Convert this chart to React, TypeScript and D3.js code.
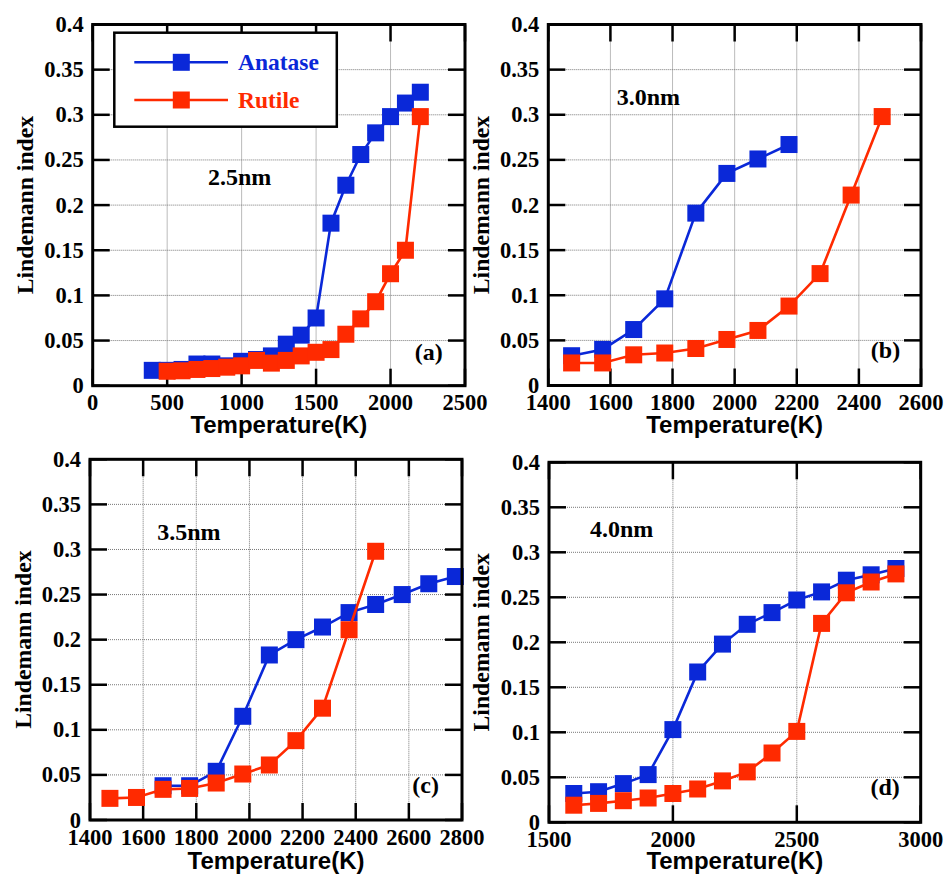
import React from "react";
import * as d3 from "d3";

const BLUE = "#0A28D8";
const RED = "#FF2A00";

// Panel (a) 2.5nm
const aAnataseT = [400, 500, 600, 700, 800, 900, 1000, 1100, 1200, 1300, 1400, 1500, 1600, 1700, 1800, 1900, 2000, 2100, 2200];
const aAnataseL = [0.017, 0.017, 0.018, 0.024, 0.024, 0.022, 0.027, 0.029, 0.033, 0.046, 0.056, 0.075, 0.18, 0.222, 0.256, 0.28, 0.298, 0.313, 0.325];
const aRutileT = [500, 600, 700, 800, 900, 1000, 1100, 1200, 1300, 1400, 1500, 1600, 1700, 1800, 1900, 2000, 2100, 2200];
const aRutileL = [0.016, 0.0165, 0.018, 0.019, 0.0205, 0.022, 0.028, 0.025, 0.028, 0.033, 0.037, 0.04, 0.057, 0.074, 0.093, 0.124, 0.15, 0.298];

// Panel (b) 3.0nm
const bAnataseT = [1475, 1575, 1675, 1775, 1875, 1975, 2075, 2175];
const bAnataseL = [0.033, 0.04, 0.062, 0.096, 0.191, 0.235, 0.251, 0.267];
const bRutileT = [1475, 1575, 1675, 1775, 1875, 1975, 2075, 2175, 2275, 2375, 2475];
const bRutileL = [0.025, 0.025, 0.034, 0.036, 0.041, 0.051, 0.061, 0.088, 0.124, 0.211, 0.298];

// Panel (c) 3.5nm
const cAnataseT = [1675, 1775, 1875, 1975, 2075, 2175, 2275, 2375, 2475, 2575, 2675, 2775];
const cAnataseL = [0.038, 0.038, 0.054, 0.115, 0.183, 0.2, 0.214, 0.23, 0.239, 0.25, 0.262, 0.27];
const cRutileT = [1475, 1575, 1675, 1775, 1875, 1975, 2075, 2175, 2275, 2375, 2475];
const cRutileL = [0.024, 0.025, 0.034, 0.035, 0.041, 0.051, 0.061, 0.088, 0.124, 0.211, 0.298];

// Panel (d) 4.0nm
const dAnataseT = [1600, 1700, 1800, 1900, 2000, 2100, 2200, 2300, 2400, 2500, 2600, 2700, 2800, 2900];
const dAnataseL = [0.032, 0.034, 0.043, 0.053, 0.103, 0.167, 0.198, 0.22, 0.233, 0.247, 0.256, 0.269, 0.275, 0.282];
const dRutileT = [1600, 1700, 1800, 1900, 2000, 2100, 2200, 2300, 2400, 2500, 2600, 2700, 2800, 2900];
const dRutileL = [0.019, 0.021, 0.024, 0.027, 0.032, 0.037, 0.046, 0.056, 0.077, 0.101, 0.221, 0.255, 0.267, 0.276];

const yTicks = [0, 0.05, 0.1, 0.15, 0.2, 0.25, 0.3, 0.35, 0.4];
const yTickLabels = ["0", "0.05", "0.1", "0.15", "0.2", "0.25", "0.3", "0.35", "0.4"];
const xTicksA = [0, 500, 1000, 1500, 2000, 2500];
const xTicksB = [1400, 1600, 1800, 2000, 2200, 2400, 2600];
const xTicksC = [1400, 1600, 1800, 2000, 2200, 2400, 2600, 2800];
const xTicksD = [1500, 2000, 2500, 3000];

const sizeLabels = ["2.5nm", "3.0nm", "3.5nm", "4.0nm"];
const panelTags = ["(a)", "(b)", "(c)", "(d)"];
const seriesNames = ["Anatase", "Rutile"];
const xTitle = "Temperature(K)";
const yTitle = "Lindemann index";

const SERIF: React.CSSProperties = { fontFamily: "Liberation Serif", fontWeight: 700 };
const SANS: React.CSSProperties = { fontFamily: "Liberation Sans", fontWeight: 700 };

type PanelCfg = {
  left: number; right: number; top: number; bottom: number;
  xDomain: [number, number]; xTicks: number[];
  blueT: number[]; blueL: number[]; redT: number[]; redL: number[];
  sizeLabel: string; sizeAt: [number, number];
  tag: string; tagAt: [number, number];
  yTitleX: number; xTitleY: number;
  legend?: boolean;
};

const panels: PanelCfg[] = [
  { left: 92.7, right: 465, top: 24.5, bottom: 385.7, xDomain: [0, 2500], xTicks: xTicksA,
    blueT: aAnataseT, blueL: aAnataseL, redT: aRutileT, redL: aRutileL,
    sizeLabel: sizeLabels[0], sizeAt: [774, 0.222], tag: panelTags[0], tagAt: [2350, 0.029],
    yTitleX: 33, xTitleY: 433, legend: true },
  { left: 548.3, right: 921, top: 24.5, bottom: 385.5, xDomain: [1400, 2600], xTicks: xTicksB,
    blueT: bAnataseT, blueL: bAnataseL, redT: bRutileT, redL: bRutileL,
    sizeLabel: sizeLabels[1], sizeAt: [1620, 0.311], tag: panelTags[1], tagAt: [2533, 0.03],
    yTitleX: 489, xTitleY: 433 },
  { left: 90, right: 462, top: 459.3, bottom: 820, xDomain: [1400, 2800], xTicks: xTicksC,
    blueT: cAnataseT, blueL: cAnataseL, redT: cRutileT, redL: cRutileL,
    sizeLabel: sizeLabels[2], sizeAt: [1653, 0.3105], tag: panelTags[2], tagAt: [2713, 0.03],
    yTitleX: 30.5, xTitleY: 869 },
  { left: 549, right: 920.7, top: 462.3, bottom: 822.3, xDomain: [1500, 3000], xTicks: xTicksD,
    blueT: dAnataseT, blueL: dAnataseL, redT: dRutileT, redL: dRutileL,
    sizeLabel: sizeLabels[3], sizeAt: [1665, 0.317], tag: panelTags[3], tagAt: [2916, 0.03],
    yTitleX: 489, xTitleY: 869 },
];

const MS = 17;
const TICK = 17;

function Series({ T, L, x, y, color }: { T: number[]; L: number[]; x: any; y: any; color: string }) {
  const pts: [number, number][] = T.map((t, i) => [t, L[i]]);
  const line = d3.line<[number, number]>().x((d) => x(d[0])).y((d) => y(d[1]));
  return (
    <g>
      <path d={line(pts) || ""} fill="none" stroke={color} strokeWidth={2.6} />
      {pts.map((p, i) => (
        <rect key={i} x={x(p[0]) - MS / 2} y={y(p[1]) - MS / 2} width={MS} height={MS} fill={color} />
      ))}
    </g>
  );
}

function Panel({ p }: { p: PanelCfg }) {
  const x = d3.scaleLinear().domain(p.xDomain).range([p.left, p.right]);
  const y = d3.scaleLinear().domain([0, 0.4]).range([p.bottom, p.top]);
  const cx = (p.left + p.right) / 2;
  const cy = (p.top + p.bottom) / 2;
  return (
    <g>
      {/* grid */}
      {p.xTicks.slice(1, -1).map((t) => (
        <line key={"gx" + t} x1={x(t)} x2={x(t)} y1={p.top} y2={p.bottom} stroke="#777" strokeWidth={1} strokeDasharray="1,1" />
      ))}
      {yTicks.slice(1, -1).map((t) => (
        <line key={"gy" + t} x1={p.left} x2={p.right} y1={y(t)} y2={y(t)} stroke="#777" strokeWidth={1} strokeDasharray="1,1" />
      ))}
      {/* ticks */}
      {p.xTicks.map((t) => (
        <g key={"tx" + t}>
          <line x1={x(t)} x2={x(t)} y1={p.bottom} y2={p.bottom - TICK} stroke="#000" strokeWidth={2.5} />
          <line x1={x(t)} x2={x(t)} y1={p.top} y2={p.top + TICK} stroke="#000" strokeWidth={2.5} />
          <text x={x(t)} y={p.bottom + 24.5} textAnchor="middle" style={SERIF} fontSize={22.5}>{t}</text>
        </g>
      ))}
      {yTicks.map((t, i) => (
        <g key={"ty" + t}>
          <line x1={p.left} x2={p.left + TICK} y1={y(t)} y2={y(t)} stroke="#000" strokeWidth={2.5} />
          <line x1={p.right} x2={p.right - TICK} y1={y(t)} y2={y(t)} stroke="#000" strokeWidth={2.5} />
          <text x={p.left - 9} y={y(t) + 7.5} textAnchor="end" style={SERIF} fontSize={22.5}>{yTickLabels[i]}</text>
        </g>
      ))}
      {/* legend */}
      {p.legend && (
        <g>
          <rect x={114.3} y={32.7} width={222.5} height={94} fill="#fff" stroke="#000" strokeWidth={2.5} />
          {[BLUE, RED].map((c, i) => {
            const ly = i === 0 ? 62.3 : 100;
            return (
              <g key={c}>
                <line x1={134.3} x2={228} y1={ly} y2={ly} stroke={c} strokeWidth={2.6} />
                <rect x={181.3 - MS / 2} y={ly - MS / 2} width={MS} height={MS} fill={c} />
                <text x={238} y={ly + 8} style={SERIF} fontSize={23.5} fill={c}>{seriesNames[i]}</text>
              </g>
            );
          })}
        </g>
      )}
      {/* data */}
      <Series T={p.blueT} L={p.blueL} x={x} y={y} color={BLUE} />
      <Series T={p.redT} L={p.redL} x={x} y={y} color={RED} />
      {/* frame */}
      <rect x={p.left} y={p.top} width={p.right - p.left} height={p.bottom - p.top} fill="none" stroke="#000" strokeWidth={3} />
      {/* annotations */}
      <text x={x(p.sizeAt[0])} y={y(p.sizeAt[1])} style={SERIF} fontSize={24}>{p.sizeLabel}</text>
      <text x={x(p.tagAt[0])} y={y(p.tagAt[1])} textAnchor="end" style={SERIF} fontSize={24}>{p.tag}</text>
      {/* titles */}
      <text x={cx} y={p.xTitleY} textAnchor="middle" style={SANS} fontSize={24}>{xTitle}</text>
      <text transform={`translate(${p.yTitleX},${cy}) rotate(-90)`} textAnchor="middle" style={SERIF} fontSize={23.7}>{yTitle}</text>
    </g>
  );
}

export default function App() {
  return (
    <svg width={947} height={880} style={{ position: "absolute", left: 0, top: 0, background: "#fff" }}>
      <rect x={0} y={0} width={947} height={880} fill="#fff" />
      {panels.map((p, i) => (
        <Panel key={i} p={p} />
      ))}
    </svg>
  );
}
